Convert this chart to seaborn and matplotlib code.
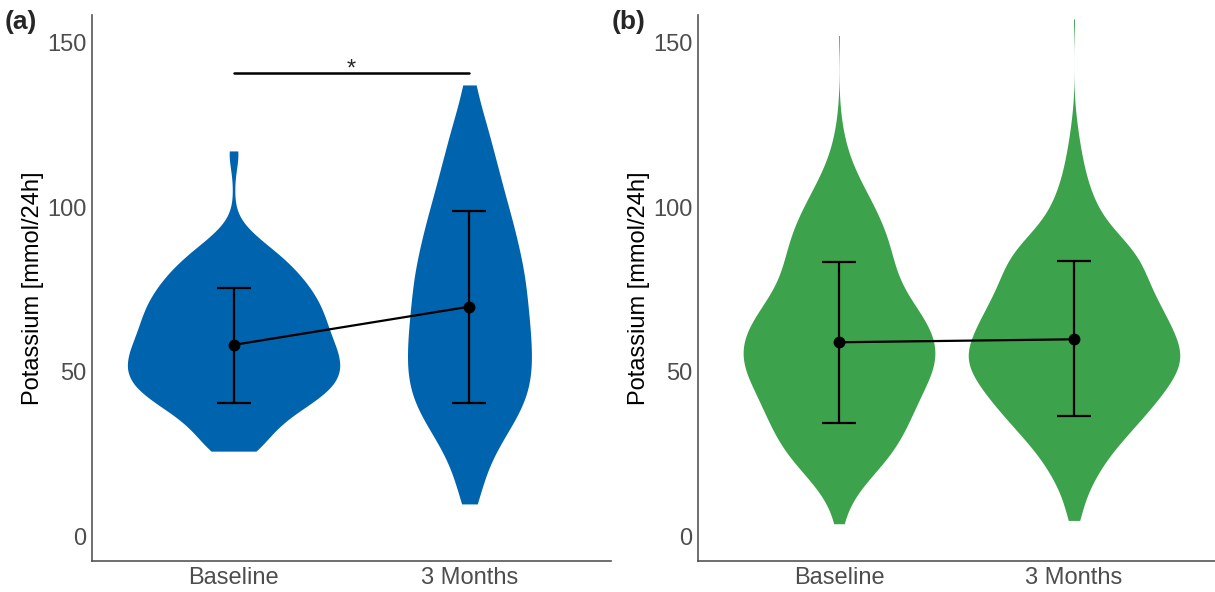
import numpy as np
import pandas as pd
import matplotlib.pyplot as plt
import seaborn as sns

# ====================================================
# DATA
# ====================================================
groups = ["Baseline", "3 Months"]

# violin distributions: potassium value (mmol/24h) and number of observations around it
a_base_vals = [26, 31, 36, 41, 46, 51, 56, 61, 66, 71, 76, 81, 86, 91, 96, 101, 106, 112, 117]
a_base_cnt = [24, 36, 52, 78, 98, 104, 101, 94, 89, 83, 73, 60, 43, 22, 6, 1, 1, 3, 6]
a_3m_vals = [10, 15, 20, 25, 30, 35, 40, 45, 50, 55, 60, 65, 70, 75, 80, 85, 90, 95,
             100, 105, 110, 115, 120, 125, 130, 137]
a_3m_cnt = [9, 11, 16, 22, 32, 42, 51, 56, 58, 58, 57, 56, 54, 53, 51, 48, 44, 41,
            36, 32, 28, 24, 20, 16, 12, 10]

b_base_vals = [4, 10, 15, 20, 25, 30, 35, 40, 45, 50, 55, 60, 65, 70, 75, 80, 85, 90,
               95, 100, 105, 110, 115, 120, 125, 130, 152]
b_base_cnt = [6, 11, 22, 38, 53, 63, 71, 78, 86, 95, 99, 97, 89, 77, 65, 58, 54, 50,
              44, 36, 27, 18, 11, 6, 3, 1, 1]
b_3m_vals = [5, 10, 15, 20, 25, 30, 35, 40, 45, 50, 55, 60, 65, 70, 75, 80, 85, 90,
             95, 100, 105, 110, 115, 120, 125, 130, 157]
b_3m_cnt = [6, 9, 15, 24, 34, 48, 62, 76, 88, 99, 104, 98, 91, 82, 74, 68, 62, 48,
            32, 22, 16, 11, 8, 5, 3, 1, 1]

# mean +/- SD
a_mean = [58.2, 69.8]
a_low = [40.7, 40.7]
a_high = [75.5, 98.9]
b_mean = [59.0, 59.9]
b_low = [34.6, 36.5]
b_high = [83.4, 83.5]

sig_y = 140.6

# ====================================================
# STYLE
# ====================================================
sns.set_style("white")
plt.rcParams["font.family"] = ["Liberation Sans", "DejaVu Sans"]

blue = "#0063ae"
green = "#3ca24b"
axis_grey = "#555555"
text_grey = "#4d4d4d"


def make_df(base_vals, base_cnt, m3_vals, m3_cnt):
    base = np.repeat(base_vals, base_cnt)
    m3 = np.repeat(m3_vals, m3_cnt)
    return pd.DataFrame({
        "group": [groups[0]] * len(base) + [groups[1]] * len(m3),
        "value": np.concatenate([base, m3]).astype(float),
    })


def draw_panel(ax, df, color, mean, low, high):
    sns.violinplot(data=df, x="group", y="value", order=groups, color=color,
                   saturation=1, inner=None, cut=0, linewidth=0, width=0.9,
                   density_norm="area", bw_adjust=0.8, gridsize=300, ax=ax)
    x = np.arange(len(groups))
    mean = np.array(mean)
    yerr = [mean - np.array(low), np.array(high) - mean]
    ax.errorbar(x, mean, yerr=yerr, fmt="none", ecolor="black", elinewidth=1.6,
                capsize=12.5, capthick=1.6, zorder=3)
    ax.plot(x, mean, color="black", lw=1.6, marker="o", ms=7.5, zorder=4)

    ax.set_xlim(-0.6, 1.6)
    ax.set_ylim(-7.3, 158.2)
    ax.set_yticks([0, 50, 100, 150])
    ax.set_xlabel("")
    ax.set_ylabel("Potassium [mmol/24h]", fontsize=17, color="black", labelpad=2)
    ax.tick_params(axis="both", labelsize=17, colors=text_grey, length=3,
                   width=0.8, color=axis_grey, pad=1)
    sns.despine(ax=ax)
    for side in ["left", "bottom"]:
        ax.spines[side].set_color(axis_grey)
        ax.spines[side].set_linewidth(1.2)


fig = plt.figure(figsize=(12.15, 5.92), dpi=100)
ax1 = fig.add_axes([92 / 1215, 31 / 592, 519 / 1215, 546 / 592])
ax2 = fig.add_axes([698 / 1215, 31 / 592, 517 / 1215, 546 / 592])

draw_panel(ax1, make_df(a_base_vals, a_base_cnt, a_3m_vals, a_3m_cnt), blue,
           a_mean, a_low, a_high)
draw_panel(ax2, make_df(b_base_vals, b_base_cnt, b_3m_vals, b_3m_cnt), green,
           b_mean, b_low, b_high)

# significance bracket in panel a
ax1.plot([0, 1], [sig_y, sig_y], color="black", lw=1.8)
ax1.text(0.5, sig_y - 2.2, "*", ha="center", va="bottom", fontsize=17)

fig.text(0.004, 0.962, "(a)", fontsize=19, fontweight="bold", va="center")
fig.text(0.503, 0.962, "(b)", fontsize=19, fontweight="bold", va="center")

fig.savefig("out.png", dpi=100)
